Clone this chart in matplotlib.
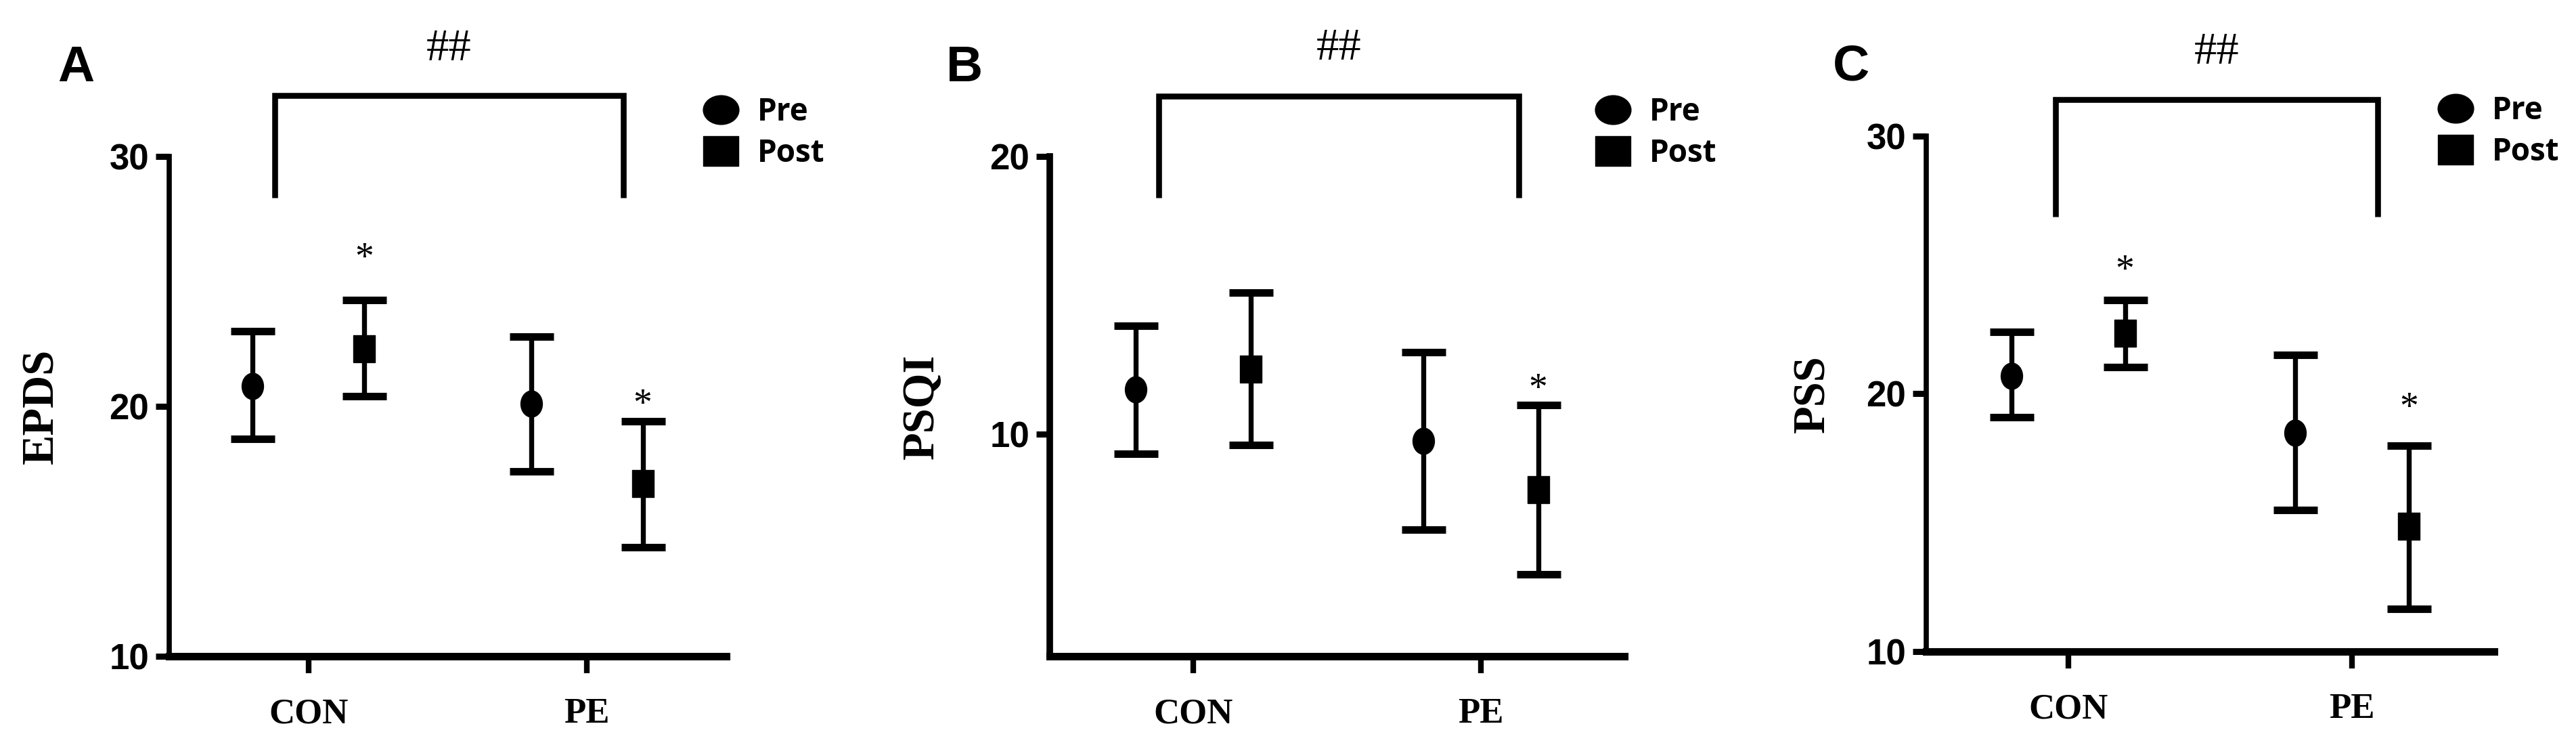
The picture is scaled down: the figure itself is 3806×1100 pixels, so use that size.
import matplotlib
matplotlib.use('Agg')
import matplotlib.pyplot as plt
from matplotlib.path import Path
from matplotlib.transforms import Affine2D
from matplotlib.lines import Line2D
from matplotlib import font_manager

W, H, DPI = 3806, 1100, 100

# ---------------- data ----------------
groups = ['CON', 'PE']
panel_letters = ['A', 'B', 'C']
ylabels = ['EPDS', 'PSQI', 'PSS']

epds_pre_mean = [20.8, 20.1]
epds_pre_lo = [18.7, 17.4]
epds_pre_hi = [23.0, 22.8]
epds_post_mean = [22.3, 16.9]
epds_post_lo = [20.4, 14.35]
epds_post_hi = [24.25, 19.4]

psqi_pre_mean = [11.6, 9.75]
psqi_pre_lo = [9.3, 6.55]
psqi_pre_hi = [13.9, 12.95]
psqi_post_mean = [12.35, 8.0]
psqi_post_lo = [9.6, 4.95]
psqi_post_hi = [15.1, 11.05]

pss_pre_mean = [20.7, 18.5]
pss_pre_lo = [19.1, 15.5]
pss_pre_hi = [22.4, 21.5]
pss_post_mean = [22.35, 14.85]
pss_post_lo = [21.05, 11.65]
pss_post_hi = [23.65, 18.0]

# significance stars over Post (None = no star)
epds_star = [26.3, 20.45]
psqi_star = [None, 11.95]
pss_star = [25.15, 19.8]

ylims = [(10, 30), (2, 20), (10, 30)]
yticks = [[10, 20, 30], [10, 20], [10, 20, 30]]

# bracket (x_left, x_right, y_top, y_leg_end)
brackets = [(-0.12, 1.13, 32.43, 28.35),
            (-0.12, 1.133, 22.18, 18.51),
            (-0.045, 1.09, 31.42, 26.88)]
hash_y = [34.3, 23.9, 33.25]

# ---------------- layout (pixels) ----------------
axes_px = [(250, 1073, 231, 969), (1551, 2400, 231, 969), (2846, 3685, 201, 962)]
letter_px = [(112, 100), (1425, 100), (2735, 99)]
ylabel_px = [62, 1362, 2679]
legend_px = [(1038, 196), (2356, 196), (3601, 194)]

names = set(f.name for f in font_manager.fontManager.ttflist)
narrow = 'Liberation Sans Narrow' if 'Liberation Sans Narrow' in names else 'Liberation Sans'
SERIF = ['Liberation Serif', 'DejaVu Serif']
SANS = ['Liberation Sans', 'DejaVu Sans']
LEG = ['Open Sans', 'DejaVu Sans']

ell_plot = Path.unit_circle().transformed(Affine2D().scale(0.82, 1.0))
sq_plot = Path([(-0.41, -0.5), (0.41, -0.5), (0.41, 0.5), (-0.41, 0.5), (-0.41, -0.5)],
               [Path.MOVETO, Path.LINETO, Path.LINETO, Path.LINETO, Path.CLOSEPOLY])
ell_leg = Path.unit_circle().transformed(Affine2D().scale(1.0, 0.81))
sq_leg = Path([(-0.5, -0.41), (0.5, -0.41), (0.5, 0.41), (-0.5, 0.41), (-0.5, -0.41)],
              [Path.MOVETO, Path.LINETO, Path.LINETO, Path.LINETO, Path.CLOSEPOLY])

data = [
    (epds_pre_mean, epds_pre_lo, epds_pre_hi, epds_post_mean, epds_post_lo, epds_post_hi, epds_star),
    (psqi_pre_mean, psqi_pre_lo, psqi_pre_hi, psqi_post_mean, psqi_post_lo, psqi_post_hi, psqi_star),
    (pss_pre_mean, pss_pre_lo, pss_pre_hi, pss_post_mean, pss_post_lo, pss_post_hi, pss_star),
]

fig = plt.figure(figsize=(W / DPI, H / DPI), dpi=DPI)
fig.patch.set_facecolor('white')

OFF = 0.2
for i in range(3):
    l, r, t, b = axes_px[i]
    ax = fig.add_axes([l / W, 1 - b / H, (r - l) / W, (b - t) / H])
    ax.set_xlim(-0.5, 1.5)
    ax.set_ylim(*ylims[i])
    for s in ['top', 'right']:
        ax.spines[s].set_visible(False)
    ax.spines['left'].set_linewidth(5.5 if i != 1 else 7)
    ax.spines['bottom'].set_linewidth(8)
    ax.spines['left'].set_capstyle('projecting')
    ax.patch.set_alpha(0)

    pre_m, pre_lo, pre_hi, post_m, post_lo, post_hi, star = data[i]
    xs = list(range(len(groups)))
    xpre = [x - OFF for x in xs]
    xpost = [x + OFF for x in xs]

    for xx, m, lo, hi in ((xpre, pre_m, pre_lo, pre_hi), (xpost, post_m, post_lo, post_hi)):
        ax.errorbar(xx, m, yerr=[[a - c for a, c in zip(m, lo)], [c - a for a, c in zip(m, hi)]],
                    fmt='none', ecolor='black', elinewidth=5.3, capsize=23.4, capthick=8, zorder=3)
    ax.plot(xpre, pre_m, linestyle='none', marker=ell_plot, ms=28, color='black', zorder=4)
    ax.plot(xpost, post_m, linestyle='none', marker=sq_plot, ms=28.5, color='black', zorder=4)

    for xx, sy in zip(xpost, star):
        if sy is not None:
            ax.annotate('*', xy=(xx, sy), xytext=(0, -21), textcoords='offset points',
                        ha='center', va='baseline', fontsize=40, family=SERIF, color='black')

    x0, x1, yt, yl = brackets[i]
    ax.plot([x0, x0, x1, x1], [yl, yt, yt, yl], color='black', lw=6.2, clip_on=False,
            solid_joinstyle='miter', solid_capstyle='butt')
    ax.text((x0 + x1) / 2, hash_y[i], '##', ha='center', va='center', fontsize=48,
            family=SERIF, color='black', clip_on=False)

    ax.set_xticks(xs)
    ax.set_xticklabels(groups, fontsize=38, fontweight='bold', family=SERIF)
    ax.set_yticks(yticks[i])
    ax.set_yticklabels([str(v) for v in yticks[i]], fontsize=38, fontweight='bold',
                       family=[narrow, 'DejaVu Sans'])
    ax.tick_params(axis='y', length=14.4, width=6.5, pad=7, color='black')
    ax.tick_params(axis='x', length=18, width=6, pad=26, color='black')

    ax.set_ylabel(ylabels[i], fontsize=48, fontweight='bold', family=SERIF)
    ax.yaxis.label.set_verticalalignment('center')
    ax.yaxis.set_label_coords((ylabel_px[i] - l) / (r - l), 0.5)

    handles = [Line2D([], [], linestyle='none', marker=ell_leg, ms=38, color='black'),
               Line2D([], [], linestyle='none', marker=sq_leg, ms=38, color='black')]
    lx, ly = legend_px[i]
    ax.legend(handles, ['Pre', 'Post'], loc='center left',
              bbox_to_anchor=(lx / W, 1 - ly / H), bbox_transform=fig.transFigure,
              frameon=False, borderpad=0, borderaxespad=0, handlelength=1.16,
              handletextpad=0.6, labelspacing=0.3,
              prop={'family': LEG, 'size': 33, 'weight': 'bold'})

    lx, ly = letter_px[i]
    fig.text(lx / W, 1 - ly / H, panel_letters[i], ha='center', va='center',
             fontsize=54, fontweight='bold', family=SANS, color='black')

fig.savefig('out.png', dpi=DPI, facecolor='white')
